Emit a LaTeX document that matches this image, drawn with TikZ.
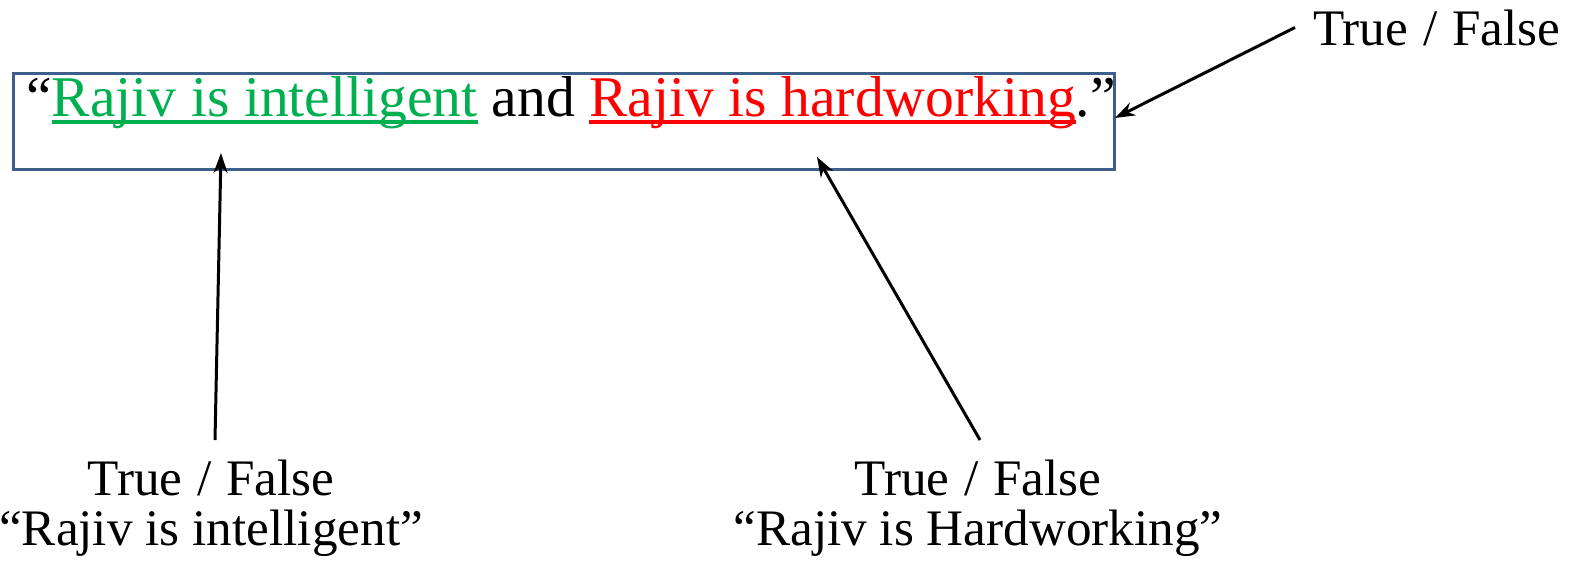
\documentclass[tikz,border=0pt]{standalone}
\usepackage{fontspec}
\setmainfont{Liberation Serif}
\usepackage{xcolor}
\definecolor{FrameBlue}{HTML}{3D5F8A}
\definecolor{ClaimGreen}{HTML}{00B050}
\definecolor{ClaimRed}{HTML}{FF0000}
\usetikzlibrary{arrows.meta,positioning}
\newcommand{\claim}[2]{{\color{#1}\setbox0\hbox{#2}\rlap{\rule[-4pt]{\wd0}{1.8pt}}\box0}}

\begin{document}
\begin{tikzpicture}[
  x=0.5pt,y=-0.5pt,
  arrow/.style={line width=1.5pt,-{Stealth[length=10pt,width=7pt]}},
  frame/.style={draw=FrameBlue,line width=1.5pt,minimum width=550.5pt,minimum height=48pt,inner sep=0pt},
  sentence/.style={font=\fontsize{28.8}{32}\selectfont,inner sep=0pt},
  verdict/.style={font=\fontsize{25.6}{25}\selectfont,align=center,inner sep=0pt}
]
\useasboundingbox (0,0) rectangle (1592,563);
\node[frame,anchor=north west] (frame) at (12,72) {};
\node[sentence,anchor=base west] (sentence) at (26,116) {``\claim{ClaimGreen}{Rajiv is intelligent} and \claim{ClaimRed}{Rajiv is hardworking}.''};
\node[verdict,anchor=base west] (whole) at (1313,45) {True\hspace{1pt} /\hspace{1pt} False};
\node[verdict,anchor=north] (intelligent) at (211,460) {True\hspace{1pt} /\hspace{1pt} False\\``Rajiv is intelligent''};
\node[verdict,anchor=north] (hardworking) at (978,460) {True\hspace{1pt} /\hspace{1pt} False\\``Rajiv is Hardworking''};
\coordinate (tipwhole) at (1115,118);
\coordinate (tipintelligent) at (221,153);
\coordinate (tiphardworking) at (817,157);
\draw[arrow] ([xshift=-9pt]whole.west) -- (tipwhole);
\draw[arrow] ([xshift=2pt,yshift=10pt]intelligent.north) -- (tipintelligent);
\draw[arrow] ([xshift=1pt,yshift=10pt]hardworking.north) -- (tiphardworking);
\end{tikzpicture}
\end{document}
